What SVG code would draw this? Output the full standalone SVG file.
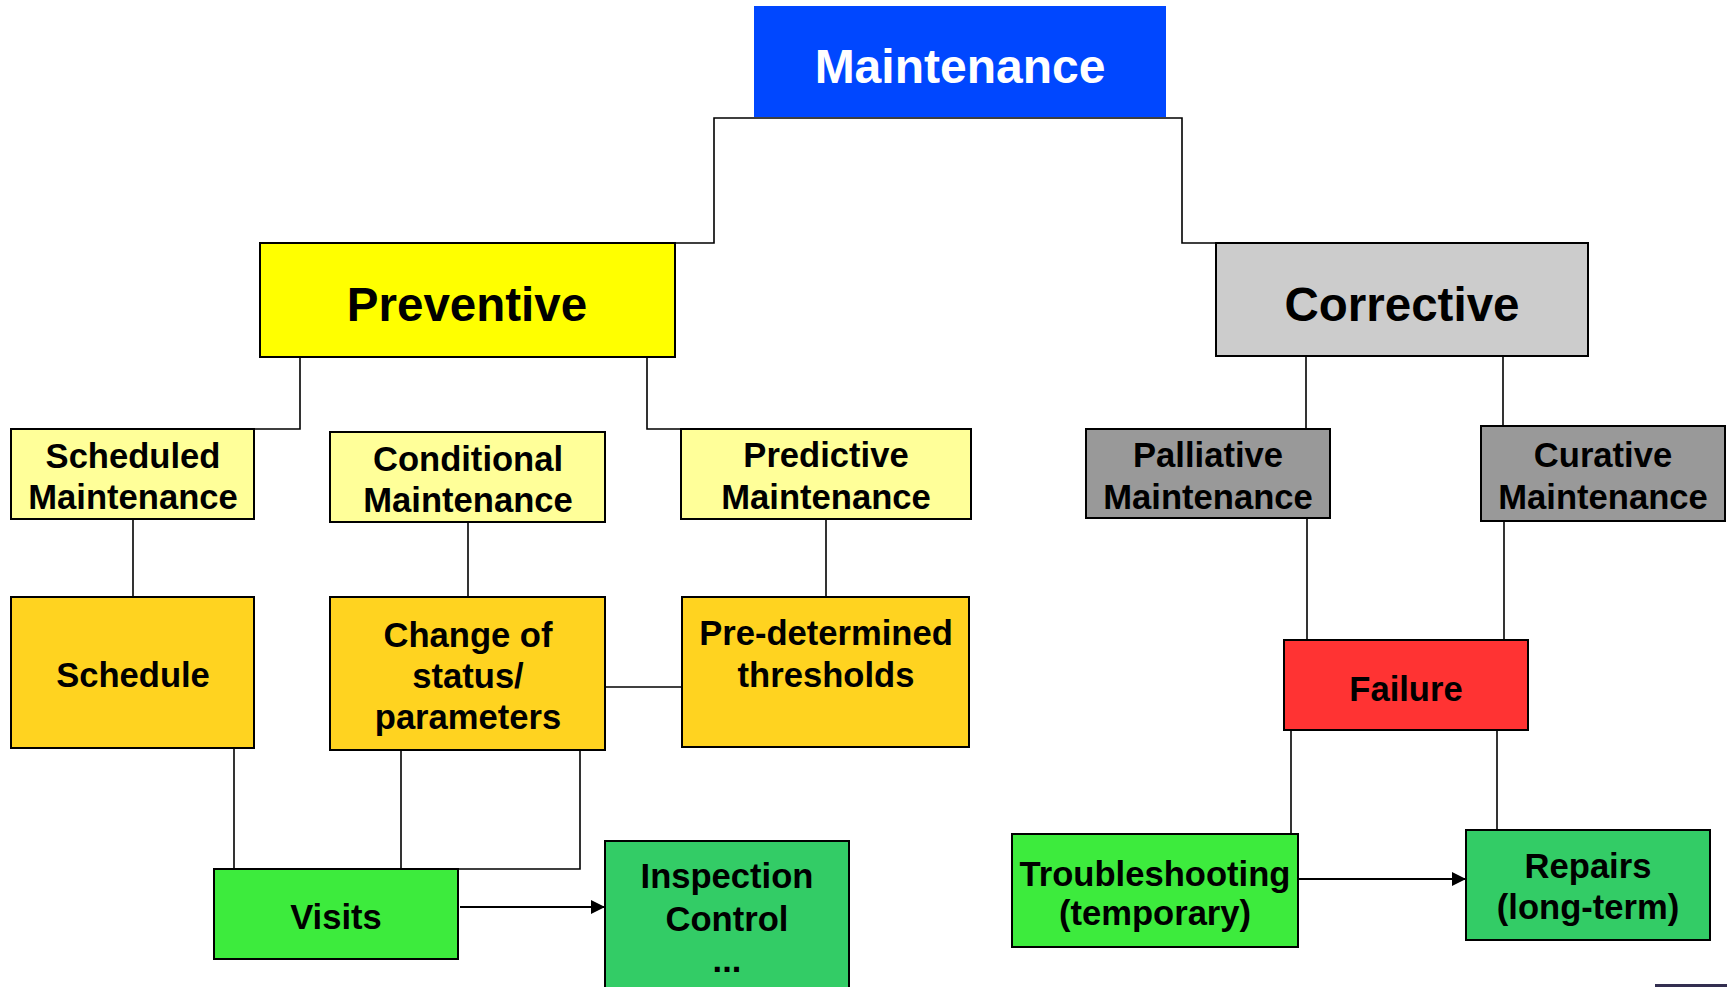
<svg xmlns="http://www.w3.org/2000/svg" width="1727" height="987" viewBox="0 0 1727 987">
<style>
.box{stroke:#000;stroke-width:2}
.t{font-family:"Liberation Sans",Arial,sans-serif;font-weight:bold;text-anchor:middle;fill:#000}
.big{font-size:47.5px}
.med{font-size:34.6px}
.c{fill:none;stroke:#000;stroke-width:1.6}
.a{fill:none;stroke:#000;stroke-width:2}
</style>
<defs>
<marker id="ah" viewBox="0 0 10 10" refX="10" refY="5" markerWidth="15" markerHeight="14" markerUnits="userSpaceOnUse" orient="auto">
<path d="M0,0 L10,5 L0,10 z" fill="#000"/>
</marker>
</defs>
<rect width="1727" height="987" fill="#fff"/>
<g id="connectors">
<polyline class="c" points="675,243 714,243 714,118 1182,118 1182,243 1216,243"/>
<polyline class="c" points="300,357 300,429 254,429"/>
<polyline class="c" points="647,357 647,429 681,429"/>
<line class="c" x1="133" y1="519" x2="133" y2="597"/>
<line class="c" x1="468" y1="522" x2="468" y2="597"/>
<line class="c" x1="826" y1="519" x2="826" y2="597"/>
<line class="c" x1="605" y1="687" x2="682" y2="687"/>
<line class="c" x1="234" y1="748" x2="234" y2="869"/>
<line class="c" x1="401" y1="750" x2="401" y2="869"/>
<polyline class="c" points="580,750 580,869 458,869"/>
<line class="a" x1="460" y1="907" x2="605" y2="907" marker-end="url(#ah)"/>
<line class="c" x1="1306" y1="356" x2="1306" y2="429"/>
<line class="c" x1="1503" y1="356" x2="1503" y2="426"/>
<line class="c" x1="1307" y1="518" x2="1307" y2="640"/>
<line class="c" x1="1504" y1="521" x2="1504" y2="640"/>
<line class="c" x1="1291" y1="730" x2="1291" y2="834"/>
<line class="c" x1="1497" y1="730" x2="1497" y2="830"/>
<line class="a" x1="1298" y1="879" x2="1466" y2="879" marker-end="url(#ah)"/>
</g>
<g id="maintenance">
<rect x="754" y="6" width="412" height="111" fill="#0047FF"/>
<text class="t big" x="960" y="83" style="fill:#fff;font-size:48px">Maintenance</text>
</g>
<g id="preventive">
<rect class="box" x="260" y="243" width="415" height="114" fill="#FFFF00"/>
<text class="t big" x="467" y="321">Preventive</text>
</g>
<g id="corrective">
<rect class="box" x="1216" y="243" width="372" height="113" fill="#CCCCCC"/>
<text class="t big" x="1402" y="321">Corrective</text>
</g>
<g id="scheduled">
<rect class="box" x="11" y="429" width="243" height="90" fill="#FFFF99"/>
<text class="t med" x="133" y="468">Scheduled</text>
<text class="t med" x="133" y="509">Maintenance</text>
</g>
<g id="conditional">
<rect class="box" x="330" y="432" width="275" height="90" fill="#FFFF99"/>
<text class="t med" x="468" y="471">Conditional</text>
<text class="t med" x="468" y="512">Maintenance</text>
</g>
<g id="predictive">
<rect class="box" x="681" y="429" width="290" height="90" fill="#FFFF99"/>
<text class="t med" x="826" y="467">Predictive</text>
<text class="t med" x="826" y="509">Maintenance</text>
</g>
<g id="palliative">
<rect class="box" x="1086" y="429" width="244" height="89" fill="#999999"/>
<text class="t med" x="1208" y="467">Palliative</text>
<text class="t med" x="1208" y="509">Maintenance</text>
</g>
<g id="curative">
<rect class="box" x="1481" y="426" width="244" height="95" fill="#999999"/>
<text class="t med" x="1603" y="467">Curative</text>
<text class="t med" x="1603" y="509">Maintenance</text>
</g>
<g id="schedule">
<rect class="box" x="11" y="597" width="243" height="151" fill="#FFD320"/>
<text class="t med" x="133" y="687">Schedule</text>
</g>
<g id="change">
<rect class="box" x="330" y="597" width="275" height="153" fill="#FFD320"/>
<text class="t med" x="468" y="647">Change of</text>
<text class="t med" x="468" y="688">status/</text>
<text class="t med" x="468" y="729">parameters</text>
</g>
<g id="thresholds">
<rect class="box" x="682" y="597" width="287" height="150" fill="#FFD320"/>
<text class="t med" x="826" y="645">Pre-determined</text>
<text class="t med" x="826" y="687">thresholds</text>
</g>
<g id="failure">
<rect class="box" x="1284" y="640" width="244" height="90" fill="#FF3333"/>
<text class="t med" x="1406" y="701">Failure</text>
</g>
<g id="visits">
<rect class="box" x="214" y="869" width="244" height="90" fill="#3DEB3D"/>
<text class="t med" x="336" y="929">Visits</text>
</g>
<g id="inspection">
<rect class="box" x="605" y="841" width="244" height="160" fill="#33CC66"/>
<text class="t med" x="727" y="888">Inspection</text>
<text class="t med" x="727" y="931">Control</text>
<text class="t med" x="727" y="972">...</text>
</g>
<g id="troubleshooting">
<rect class="box" x="1012" y="834" width="286" height="113" fill="#3DEB3D"/>
<text class="t med" x="1155" y="886">Troubleshooting</text>
<text class="t med" x="1155" y="925">(temporary)</text>
</g>
<g id="repairs">
<rect class="box" x="1466" y="830" width="244" height="110" fill="#33CC66"/>
<text class="t med" x="1588" y="878">Repairs</text>
<text class="t med" x="1588" y="919">(long-term)</text>
</g>
<rect x="1655" y="984" width="72" height="3" fill="#332E50"/>
</svg>
